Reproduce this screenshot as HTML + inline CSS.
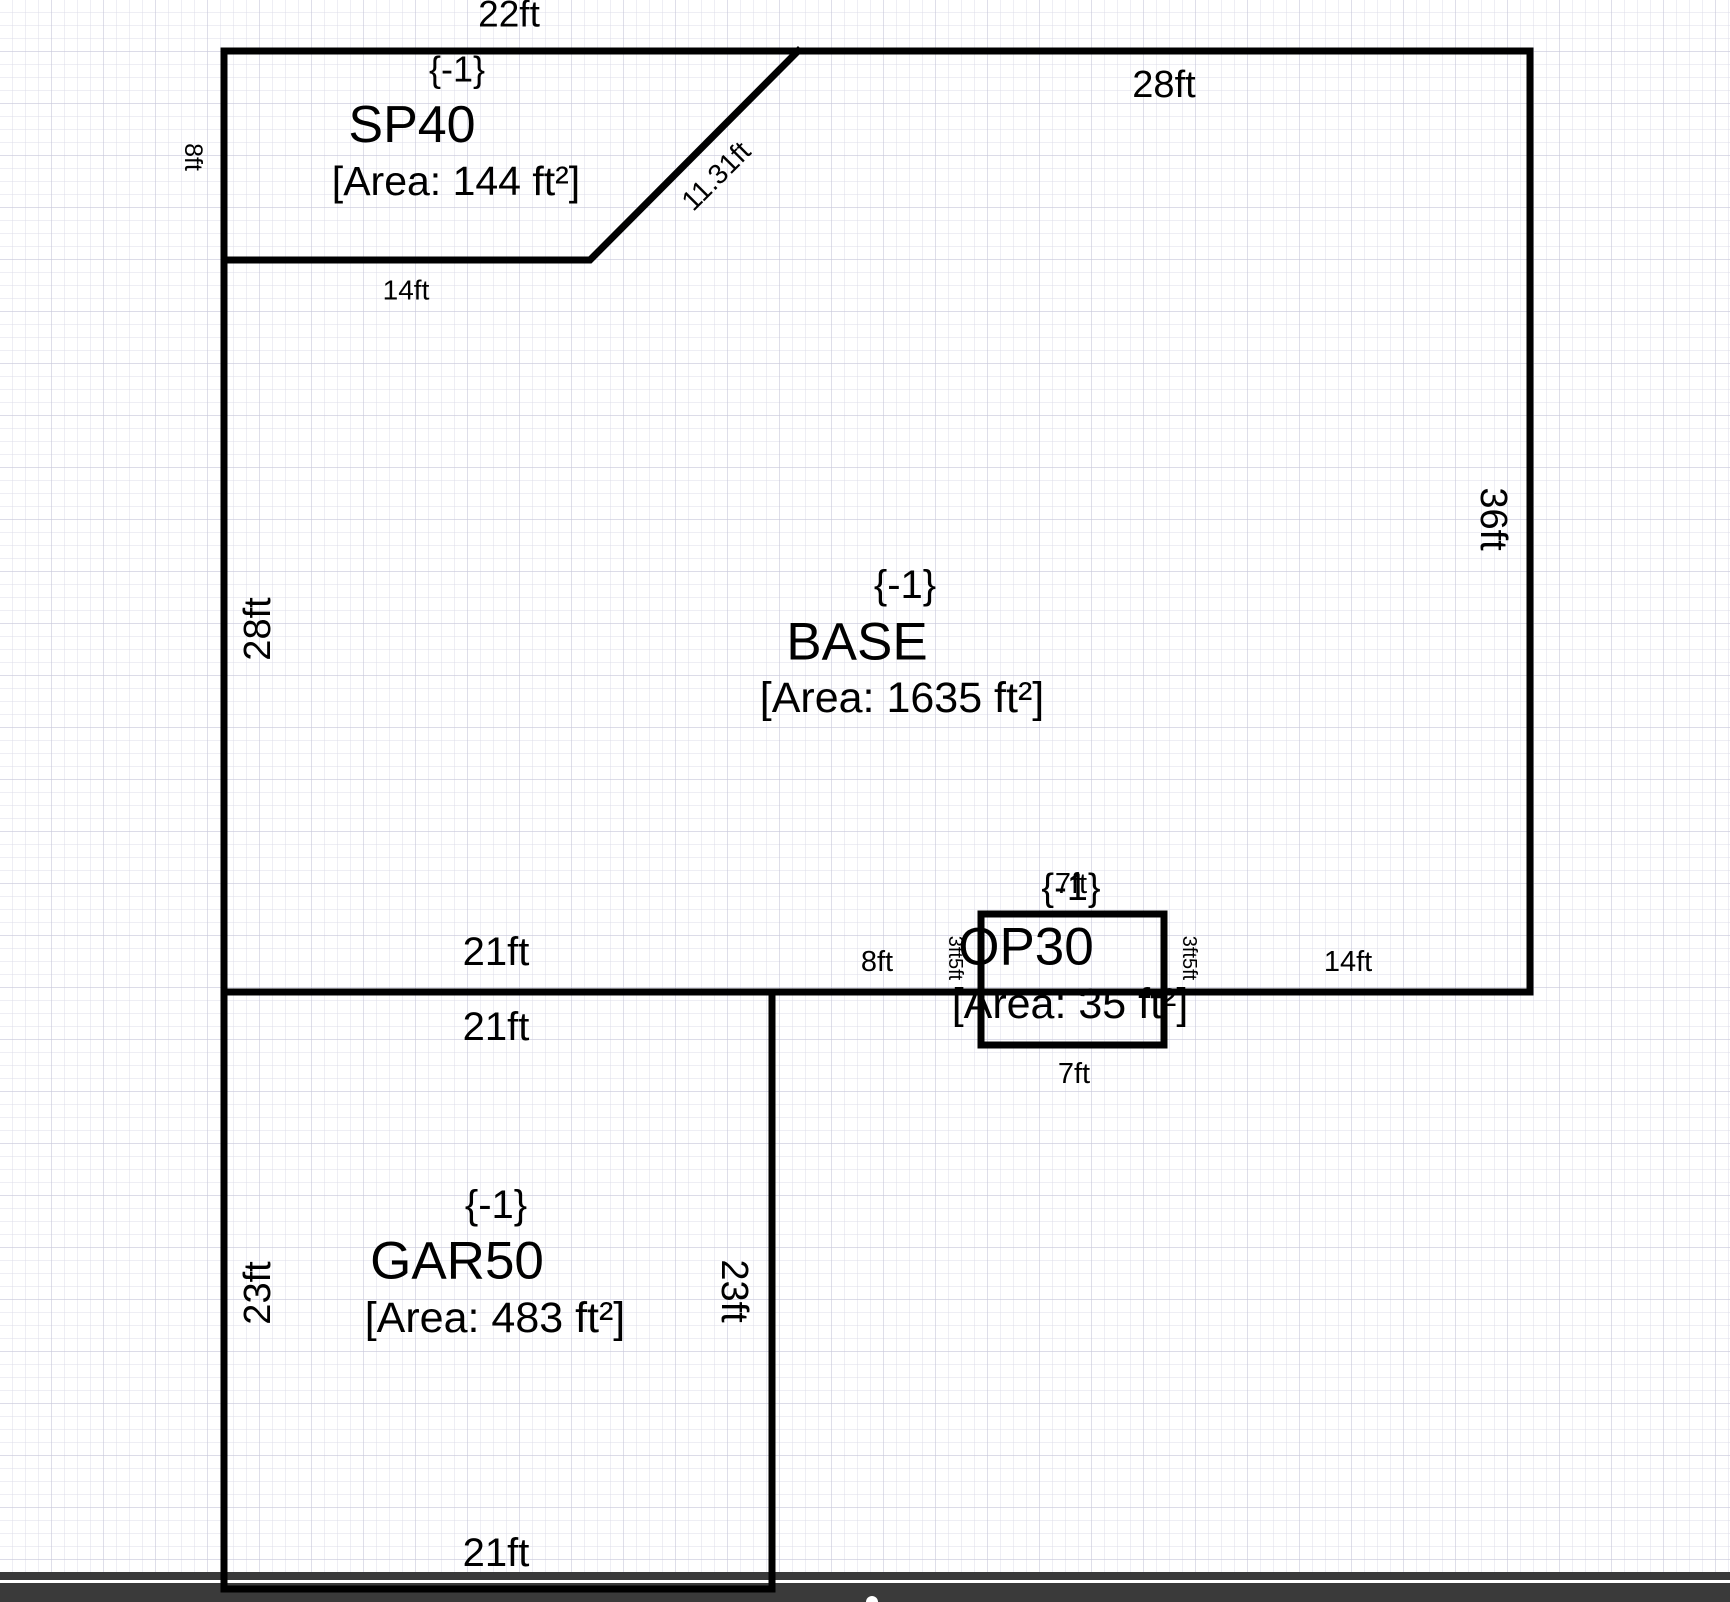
<!DOCTYPE html>
<html><head><meta charset="utf-8"><style>
html,body{margin:0;padding:0;width:1730px;height:1602px;overflow:hidden;background:#fff}
svg{display:block}
text{font-family:"Liberation Sans",sans-serif;fill:#000;text-anchor:middle;dominant-baseline:central}
</style></head><body>
<svg width="1730" height="1602" viewBox="0 0 1730 1602" xmlns="http://www.w3.org/2000/svg">
<defs>
<pattern id="g1" width="13" height="13" patternUnits="userSpaceOnUse"><path d="M13 0V13M0 13H13" fill="none" stroke="#dcdce8" stroke-width="1"/></pattern>
<pattern id="g2" width="52" height="52" patternUnits="userSpaceOnUse"><path d="M52 0V52M0 52H52" fill="none" stroke="#c8c8da" stroke-width="1.2"/></pattern>
</defs>
<rect width="1730" height="1602" fill="#fff"/>
<rect width="1730" height="1602" fill="url(#g1)"/>
<rect width="1730" height="1602" fill="url(#g2)"/>
<rect x="0" y="1572" width="1730" height="30" fill="#3a3a3a"/>
<rect x="0" y="1580" width="1730" height="3" fill="#fff"/>
<g fill="none" stroke="#000" stroke-width="7" stroke-linecap="square">
<path d="M224 51H1530V992H224Z"/>
<path d="M224 260H590L798 51"/>
<path d="M224 992V1589H772V992"/>
<rect x="981" y="914" width="183" height="131"/>
</g>
<g transform="scale(1)">
<text x="509" y="14" font-size="37">22ft</text>
<text x="457" y="69" font-size="36">{-1}</text>
<text x="412" y="125" font-size="52">SP40</text>
<text x="456" y="181" font-size="41">[Area: 144 ft²]</text>
<text transform="translate(193,157) rotate(90)" font-size="25">8ft</text>
<text transform="translate(716,176) rotate(-45)" font-size="28">11.31ft</text>
<text x="406" y="290" font-size="28">14ft</text>
<text x="1164" y="85" font-size="38">28ft</text>
<text transform="translate(1493,519) rotate(90)" font-size="38">36ft</text>
<text transform="translate(258,629) rotate(-90)" font-size="38">28ft</text>
<text x="905" y="585" font-size="40">{-1}</text>
<text x="857" y="642" font-size="53">BASE</text>
<text x="902" y="698" font-size="43">[Area: 1635 ft²]</text>
<text x="496" y="952" font-size="40">21ft</text>
<text x="877" y="962" font-size="29">8ft</text>
<text x="1348" y="962" font-size="29">14ft</text>
<text x="1071" y="888" font-size="38">{-1}</text>
<text x="1071" y="884" font-size="29">7ft</text>
<text x="1026" y="947" font-size="53">OP30</text>
<text x="1070" y="1004" font-size="43">[Area: 35 ft²]</text>
<text transform="translate(955,958) rotate(90)" font-size="20">3ft5ft</text>
<text transform="translate(1189,958) rotate(90)" font-size="20">3ft5ft</text>
<text x="1074" y="1074" font-size="29">7ft</text>
<text x="496" y="1027" font-size="40">21ft</text>
<text x="496" y="1205" font-size="40">{-1}</text>
<text x="457" y="1261" font-size="53">GAR50</text>
<text x="495" y="1318" font-size="43">[Area: 483 ft²]</text>
<text transform="translate(258,1293) rotate(-90)" font-size="38">23ft</text>
<text transform="translate(734,1291) rotate(90)" font-size="38">23ft</text>
<text x="496" y="1553" font-size="40">21ft</text>
</g>
<circle cx="872" cy="1602" r="6" fill="#fff"/>
</svg>
</body></html>
